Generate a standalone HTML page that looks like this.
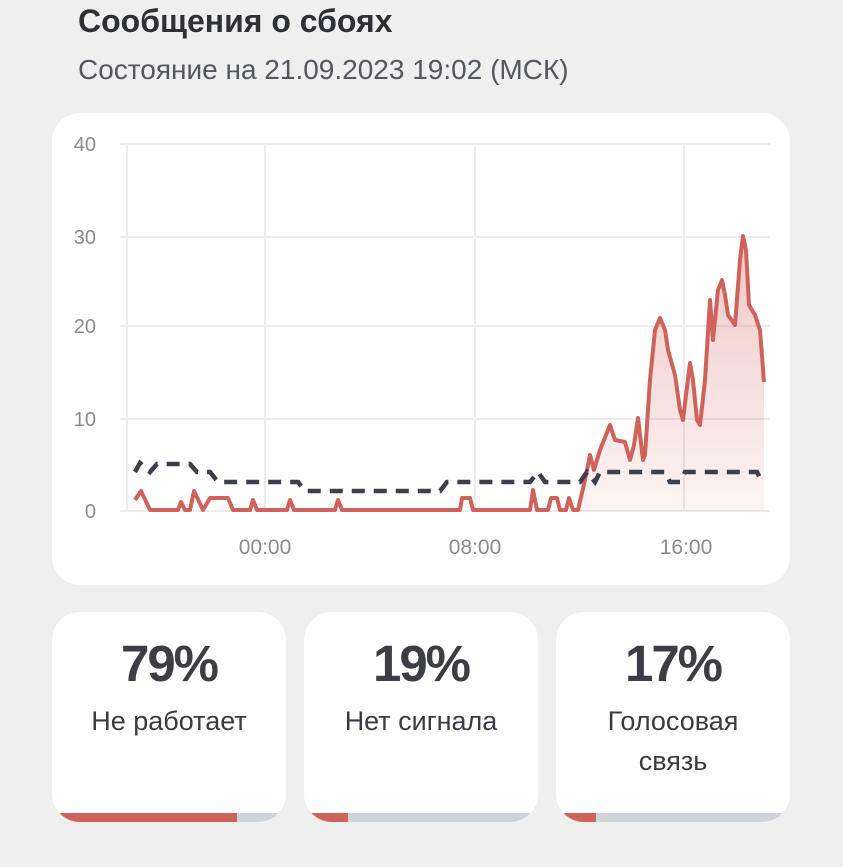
<!DOCTYPE html><html><head><meta charset="utf-8"><style>
body{margin:0;width:843px;height:867px;background:#efefef;font-family:"Liberation Sans",sans-serif;position:relative;overflow:hidden}
.t{position:absolute;left:78px;top:3px;font-size:32px;font-weight:bold;color:#2f3036}
.s{position:absolute;left:78px;top:54px;font-size:28px;color:#55575e}
.card{position:absolute;background:#fff;border-radius:28px;overflow:hidden}
.c{top:612px;width:234px;height:210px;text-align:center;color:#3a3b42}
.p{position:absolute;top:634px;font-size:51px;font-weight:bold;color:#3c3d45;letter-spacing:-2px}
.l{font-size:27px;line-height:40px;position:absolute;top:89px;left:0;right:0}
.bar{position:absolute;left:0;right:0;bottom:0;height:9px;background:#cfd3dc}
.bar i{display:block;height:100%;background:#d0625c}
</style></head><body>
<div class="t">Сообщения о сбоях</div>
<div class="s">Состояние на 21.09.2023 19:02 (МСК)</div>
<div class="card" style="left:52px;top:113px;width:738px;height:472px"></div>
<svg style="position:absolute;left:0;top:0" width="843" height="867">
<defs><linearGradient id="g" x1="0" y1="0" x2="0" y2="1"><stop offset="0" stop-color="#d0625c" stop-opacity=".35"/><stop offset="1" stop-color="#d0625c" stop-opacity=".07"/></linearGradient></defs>
<g stroke="#ececec" stroke-width="2">
<line x1="120" y1="144" x2="770" y2="144"/><line x1="120" y1="237" x2="770" y2="237"/><line x1="120" y1="326" x2="770" y2="326"/><line x1="120" y1="419" x2="770" y2="419"/><line x1="120" y1="511" x2="770" y2="511"/>
<line x1="127" y1="144" x2="127" y2="511"/><line x1="265" y1="144" x2="265" y2="511"/><line x1="475" y1="144" x2="475" y2="511"/><line x1="684" y1="144" x2="684" y2="511"/>
</g>
<g font-size="20" fill="#8a8b90" text-anchor="end"><text x="96" y="151">40</text><text x="96" y="244">30</text><text x="96" y="333">20</text><text x="96" y="426">10</text><text x="96" y="518">0</text></g>
<g font-size="21" fill="#8a8b90" text-anchor="middle"><text x="265" y="554">00:00</text><text x="475" y="554">08:00</text><text x="686" y="554">16:00</text></g>
<path fill="url(#g)" d="M578,510 585,480 590,455 594,470 600,450 610,425 615,440 625,442 630,460 634,445 638,418 643,460 645,455 650,380 655,330 660,318 665,330 668,350 675,375 680,410 683,420 686,395 690,363 693,380 697,420 700,425 705,380 710,300 713,340 718,290 722,280 725,295 728,315 735,325 740,260 743,236 746,250 749,305 755,315 760,330 764,382 764,511 578,511Z"/>
<polyline fill="none" stroke="#d0625c" stroke-width="4" stroke-linejoin="round" points="135,500 141,491 150,510 178,510 181,502 185,510 190,510 194,491 203,510 210,498 228,498 233,510 250,510 253,500 257,510 287,510 290,500 294,510 335,510 338,500 342,510 460,510 462,498 470,498 473,510 530,510 533,490 537,510 548,510 551,498 557,498 560,510 566,510 569,498 573,510 578,510 585,480 590,455 594,470 600,450 610,425 615,440 625,442 630,460 634,445 638,418 643,460 645,455 650,380 655,330 660,318 665,330 668,350 675,375 680,410 683,420 686,395 690,363 693,380 697,420 700,425 705,380 710,300 713,340 718,290 722,280 725,295 728,315 735,325 740,260 743,236 746,250 749,305 755,315 760,330 764,382"/>
<polyline fill="none" stroke="#3d3f4a" stroke-width="4.5" stroke-dasharray="13,9" points="135,472 140,463 150,472 157,464 190,464 197,472 210,472 218,482 298,482 305,491 440,491 447,482 530,482 538,472 545,482 580,482 587,472 595,482 600,472 665,472 670,482 680,482 685,472 757,472 762,482"/>
</svg>
<div class="card c" style="left:52px"><div class="l">Не работает</div><div class="bar"><i style="width:79%"></i></div></div>
<div class="card c" style="left:304px"><div class="l">Нет сигнала</div><div class="bar"><i style="width:19%"></i></div></div>
<div class="card c" style="left:556px"><div class="l">Голосовая<br>связь</div><div class="bar"><i style="width:17%"></i></div></div>
<div class="p" style="left:52px;width:234px;text-align:center">79%</div>
<div class="p" style="left:304px;width:234px;text-align:center">19%</div>
<div class="p" style="left:556px;width:234px;text-align:center">17%</div>
</body></html>
